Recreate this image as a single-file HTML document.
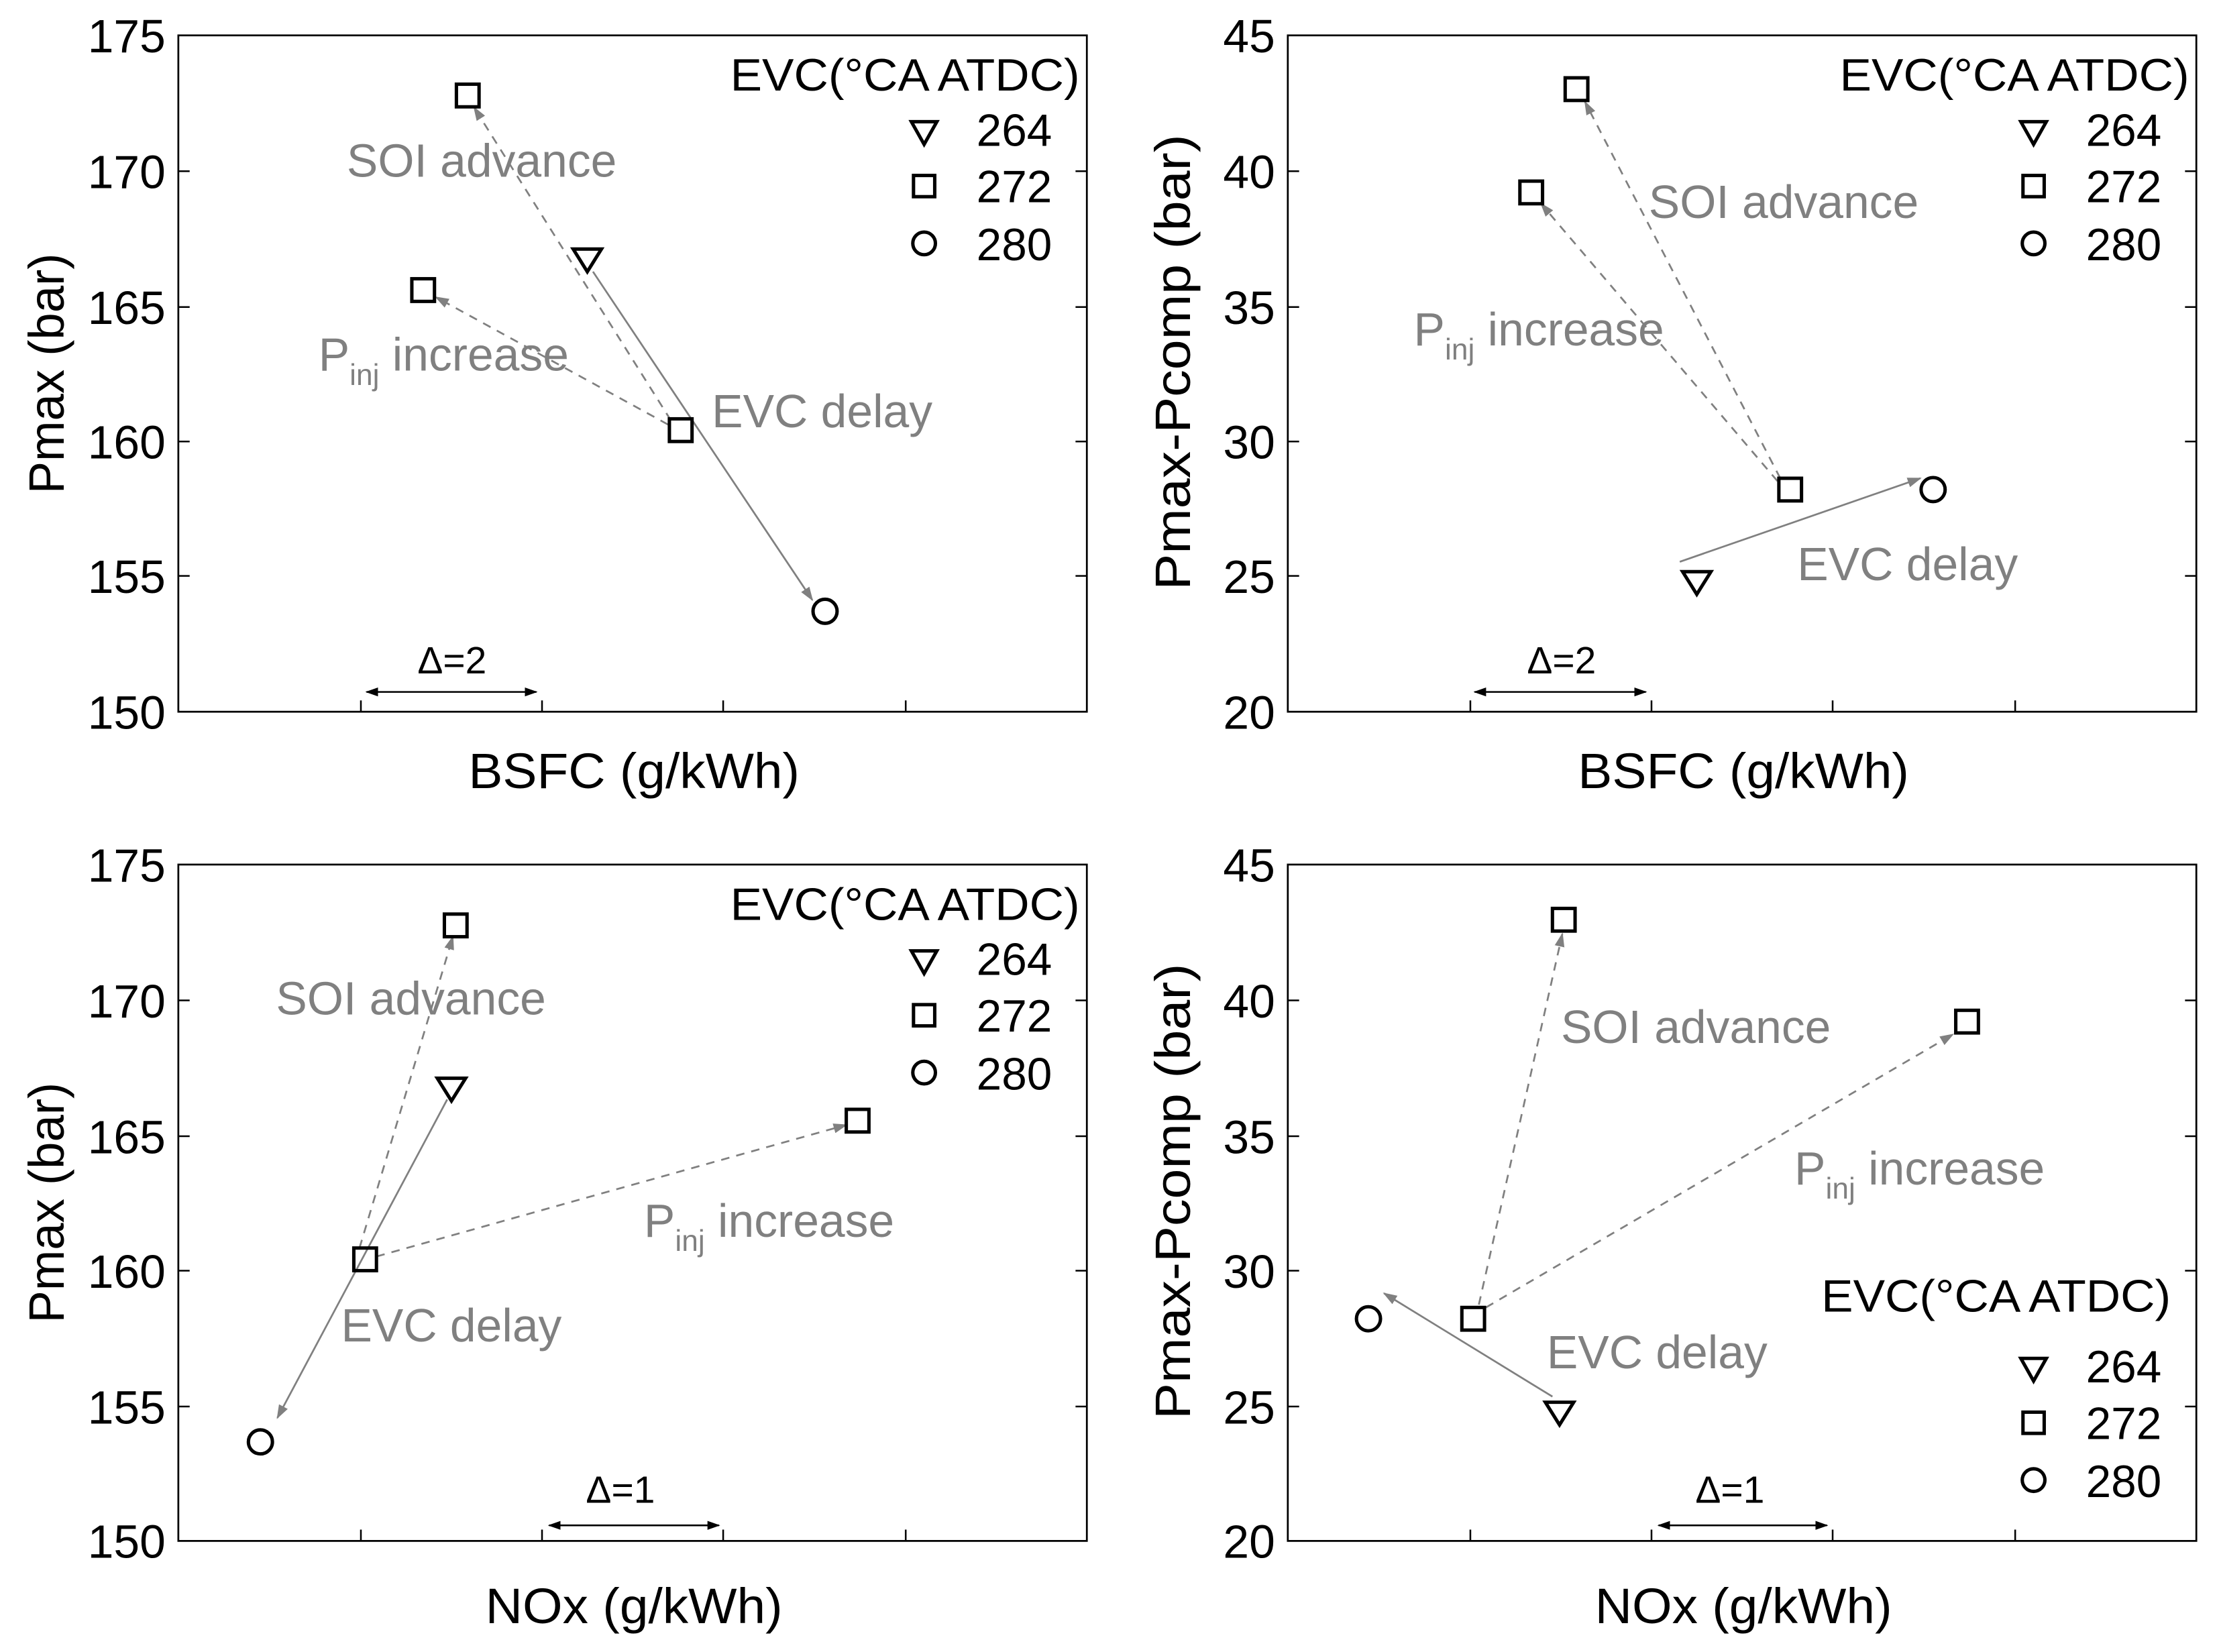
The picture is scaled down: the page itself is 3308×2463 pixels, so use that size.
<!DOCTYPE html>
<html><head><meta charset="utf-8"><style>
html,body{margin:0;padding:0;background:#fff;}
svg{display:block;}
text{font-family:"Liberation Sans",Arial,sans-serif;}
.t{font-size:33px;fill:#000;}
.ax{font-size:35px;fill:#000;}
.lg{font-size:32px;fill:#000;}
.gl{font-size:33px;fill:#808080;}
.gs{font-size:21px;fill:#808080;}
.d{font-size:27px;fill:#000;}
.fr{fill:none;stroke:#000;stroke-width:1.3;}
.tk{stroke:#000;stroke-width:1.2;}
.m{fill:none;stroke:#000;stroke-width:2.4;}
.da{stroke:#808080;stroke-width:1.3;stroke-dasharray:6,5;fill:none;}
.so{stroke:#808080;stroke-width:1.3;fill:none;}
</style></head><body>
<svg width="3308" height="2463" viewBox="0 0 1568 1167.5" xmlns="http://www.w3.org/2000/svg">
<defs>
<marker id="ar" viewBox="0 0 10 10" refX="9" refY="5" markerWidth="10" markerHeight="10" markerUnits="userSpaceOnUse" orient="auto">
<path d="M0,1.5 L10,5 L0,8.5 Z" fill="#808080"/></marker>
<marker id="ak" viewBox="0 0 10 10" refX="9" refY="5" markerWidth="9" markerHeight="9" markerUnits="userSpaceOnUse" orient="auto">
<path d="M0,1.5 L10,5 L0,8.5 Z" fill="#000"/></marker>
<marker id="aks" viewBox="0 0 10 10" refX="1" refY="5" markerWidth="9" markerHeight="9" markerUnits="userSpaceOnUse" orient="auto">
<path d="M10,1.5 L0,5 L10,8.5 Z" fill="#000"/></marker>
</defs>

<!-- ============ Panel 1 (top-left) ============ -->
<rect class="fr" x="126" y="25" width="642" height="478"/>
<g class="tk">
<line x1="126" y1="121" x2="134" y2="121"/><line x1="126" y1="217" x2="134" y2="217"/><line x1="126" y1="312" x2="134" y2="312"/><line x1="126" y1="407" x2="134" y2="407"/>
<line x1="768" y1="121" x2="760" y2="121"/><line x1="768" y1="217" x2="760" y2="217"/><line x1="768" y1="312" x2="760" y2="312"/><line x1="768" y1="407" x2="760" y2="407"/>
<line x1="255" y1="503" x2="255" y2="495"/><line x1="383" y1="503" x2="383" y2="495"/><line x1="511" y1="503" x2="511" y2="495"/><line x1="640" y1="503" x2="640" y2="495"/>
</g>
<g class="t" text-anchor="end">
<text x="117" y="37">175</text><text x="117" y="133">170</text><text x="117" y="229">165</text><text x="117" y="324">160</text><text x="117" y="419">155</text><text x="117" y="515">150</text>
</g>
<text class="ax" text-anchor="middle" textLength="170" lengthAdjust="spacingAndGlyphs" transform="translate(45,264) rotate(-90)">Pmax (bar)</text>
<text class="ax" x="448" y="557" text-anchor="middle" textLength="234" lengthAdjust="spacingAndGlyphs">BSFC (g/kWh)</text>
<text class="lg" x="516" y="64" textLength="247" lengthAdjust="spacingAndGlyphs">EVC(°CA ATDC)</text>
<path class="m" d="M644,86 L662,86 L653,102 Z"/><rect class="m" x="645.5" y="124" width="15" height="15"/><circle class="m" cx="653" cy="172" r="8"/>
<text class="lg" x="690" y="103">264</text><text class="lg" x="690" y="143">272</text><text class="lg" x="690" y="184">280</text>
<line class="da" x1="474" y1="297" x2="335" y2="76" marker-end="url(#ar)"/>
<line class="da" x1="472" y1="300" x2="308" y2="210" marker-end="url(#ar)"/>
<line class="so" x1="419" y1="192" x2="574" y2="424" marker-end="url(#ar)"/>
<rect class="m" x="322.5" y="59.5" width="16" height="16"/>
<path class="m" d="M405,176 L425,176 L415,192 Z"/>
<rect class="m" x="291" y="197" width="16" height="16"/>
<rect class="m" x="473" y="296" width="16" height="16"/>
<circle class="m" cx="583" cy="432" r="8.5"/>
<text class="gl" x="245" y="125">SOI advance</text>
<text class="gl" x="225" y="262">P<tspan class="gs" dy="10">inj</tspan><tspan dy="-10"> increase</tspan></text>
<text class="gl" x="503" y="302">EVC delay</text>
<text class="d" x="295" y="476">Δ=2</text>
<line class="tk" x1="259" y1="489" x2="379" y2="489" marker-start="url(#aks)" marker-end="url(#ak)"/>

<!-- ============ Panel 2 (top-right) ============ -->
<rect class="fr" x="910" y="25" width="642" height="478"/>
<g class="tk">
<line x1="910" y1="121" x2="918" y2="121"/><line x1="910" y1="217" x2="918" y2="217"/><line x1="910" y1="312" x2="918" y2="312"/><line x1="910" y1="407" x2="918" y2="407"/>
<line x1="1552" y1="121" x2="1544" y2="121"/><line x1="1552" y1="217" x2="1544" y2="217"/><line x1="1552" y1="312" x2="1544" y2="312"/><line x1="1552" y1="407" x2="1544" y2="407"/>
<line x1="1039" y1="503" x2="1039" y2="495"/><line x1="1167" y1="503" x2="1167" y2="495"/><line x1="1295" y1="503" x2="1295" y2="495"/><line x1="1424" y1="503" x2="1424" y2="495"/>
</g>
<g class="t" text-anchor="end">
<text x="901" y="37">45</text><text x="901" y="133">40</text><text x="901" y="229">35</text><text x="901" y="324">30</text><text x="901" y="419">25</text><text x="901" y="515">20</text>
</g>
<text class="ax" text-anchor="middle" textLength="322" lengthAdjust="spacingAndGlyphs" transform="translate(841,256) rotate(-90)">Pmax-Pcomp (bar)</text>
<text class="ax" x="1232" y="557" text-anchor="middle" textLength="234" lengthAdjust="spacingAndGlyphs">BSFC (g/kWh)</text>
<text class="lg" x="1300" y="64" textLength="247" lengthAdjust="spacingAndGlyphs">EVC(°CA ATDC)</text>
<path class="m" d="M1428,86 L1446,86 L1437,102 Z"/><rect class="m" x="1429.5" y="124" width="15" height="15"/><circle class="m" cx="1437" cy="172" r="8"/>
<text class="lg" x="1474" y="103">264</text><text class="lg" x="1474" y="143">272</text><text class="lg" x="1474" y="184">280</text>
<line class="da" x1="1258" y1="338" x2="1120" y2="72" marker-end="url(#ar)"/>
<line class="da" x1="1256" y1="340" x2="1089" y2="144" marker-end="url(#ar)"/>
<line class="so" x1="1187" y1="397" x2="1357" y2="338" marker-end="url(#ar)"/>
<rect class="m" x="1106" y="55" width="16" height="16"/>
<rect class="m" x="1074" y="128" width="16" height="16"/>
<rect class="m" x="1257" y="338" width="16" height="16"/>
<circle class="m" cx="1366" cy="346" r="8.5"/>
<path class="m" d="M1189,404 L1209,404 L1199,420 Z"/>
<text class="gl" x="1165" y="154">SOI advance</text>
<text class="gl" x="999" y="244">P<tspan class="gs" dy="10">inj</tspan><tspan dy="-10"> increase</tspan></text>
<text class="gl" x="1270" y="410">EVC delay</text>
<text class="d" x="1079" y="476">Δ=2</text>
<line class="tk" x1="1042" y1="489" x2="1163" y2="489" marker-start="url(#aks)" marker-end="url(#ak)"/>

<!-- ============ Panel 3 (bottom-left) ============ -->
<rect class="fr" x="126" y="611" width="642" height="478"/>
<g class="tk">
<line x1="126" y1="707" x2="134" y2="707"/><line x1="126" y1="803" x2="134" y2="803"/><line x1="126" y1="898" x2="134" y2="898"/><line x1="126" y1="994" x2="134" y2="994"/>
<line x1="768" y1="707" x2="760" y2="707"/><line x1="768" y1="803" x2="760" y2="803"/><line x1="768" y1="898" x2="760" y2="898"/><line x1="768" y1="994" x2="760" y2="994"/>
<line x1="255" y1="1089" x2="255" y2="1081"/><line x1="383" y1="1089" x2="383" y2="1081"/><line x1="511" y1="1089" x2="511" y2="1081"/><line x1="640" y1="1089" x2="640" y2="1081"/>
</g>
<g class="t" text-anchor="end">
<text x="117" y="623">175</text><text x="117" y="719">170</text><text x="117" y="815">165</text><text x="117" y="910">160</text><text x="117" y="1006">155</text><text x="117" y="1101">150</text>
</g>
<text class="ax" text-anchor="middle" textLength="170" lengthAdjust="spacingAndGlyphs" transform="translate(45,850) rotate(-90)">Pmax (bar)</text>
<text class="ax" x="448" y="1147" text-anchor="middle" textLength="210" lengthAdjust="spacingAndGlyphs">NOx (g/kWh)</text>
<text class="lg" x="516" y="650" textLength="247" lengthAdjust="spacingAndGlyphs">EVC(°CA ATDC)</text>
<path class="m" d="M644,672 L662,672 L653,688 Z"/><rect class="m" x="645.5" y="710" width="15" height="15"/><circle class="m" cx="653" cy="758" r="8"/>
<text class="lg" x="690" y="689">264</text><text class="lg" x="690" y="729">272</text><text class="lg" x="690" y="770">280</text>
<line class="da" x1="254" y1="882" x2="320" y2="662" marker-end="url(#ar)"/>
<line class="da" x1="266" y1="888" x2="598" y2="795" marker-end="url(#ar)"/>
<line class="so" x1="316" y1="777" x2="196" y2="1002" marker-end="url(#ar)"/>
<rect class="m" x="314" y="646" width="16" height="16"/>
<path class="m" d="M309,762 L329,762 L319,778 Z"/>
<rect class="m" x="598" y="784" width="16" height="16"/>
<rect class="m" x="250" y="882" width="16" height="16"/>
<circle class="m" cx="184" cy="1019" r="8.5"/>
<text class="gl" x="195" y="717">SOI advance</text>
<text class="gl" x="455" y="874">P<tspan class="gs" dy="10">inj</tspan><tspan dy="-10"> increase</tspan></text>
<text class="gl" x="241" y="948">EVC delay</text>
<text class="d" x="414" y="1062">Δ=1</text>
<line class="tk" x1="388" y1="1078" x2="508" y2="1078" marker-start="url(#aks)" marker-end="url(#ak)"/>

<!-- ============ Panel 4 (bottom-right) ============ -->
<rect class="fr" x="910" y="611" width="642" height="478"/>
<g class="tk">
<line x1="910" y1="707" x2="918" y2="707"/><line x1="910" y1="803" x2="918" y2="803"/><line x1="910" y1="898" x2="918" y2="898"/><line x1="910" y1="994" x2="918" y2="994"/>
<line x1="1552" y1="707" x2="1544" y2="707"/><line x1="1552" y1="803" x2="1544" y2="803"/><line x1="1552" y1="898" x2="1544" y2="898"/><line x1="1552" y1="994" x2="1544" y2="994"/>
<line x1="1039" y1="1089" x2="1039" y2="1081"/><line x1="1167" y1="1089" x2="1167" y2="1081"/><line x1="1295" y1="1089" x2="1295" y2="1081"/><line x1="1424" y1="1089" x2="1424" y2="1081"/>
</g>
<g class="t" text-anchor="end">
<text x="901" y="623">45</text><text x="901" y="719">40</text><text x="901" y="815">35</text><text x="901" y="910">30</text><text x="901" y="1006">25</text><text x="901" y="1101">20</text>
</g>
<text class="ax" text-anchor="middle" textLength="322" lengthAdjust="spacingAndGlyphs" transform="translate(841,842) rotate(-90)">Pmax-Pcomp (bar)</text>
<text class="ax" x="1232" y="1147" text-anchor="middle" textLength="210" lengthAdjust="spacingAndGlyphs">NOx (g/kWh)</text>
<text class="lg" x="1287" y="927" textLength="247" lengthAdjust="spacingAndGlyphs">EVC(°CA ATDC)</text>
<path class="m" d="M1428,960 L1446,960 L1437,976 Z"/><rect class="m" x="1429.5" y="998" width="15" height="15"/><circle class="m" cx="1437" cy="1046" r="8"/>
<text class="lg" x="1474" y="977">264</text><text class="lg" x="1474" y="1017">272</text><text class="lg" x="1474" y="1058">280</text>
<line class="da" x1="1045" y1="922" x2="1104" y2="660" marker-end="url(#ar)"/>
<line class="da" x1="1050" y1="924" x2="1380" y2="731" marker-end="url(#ar)"/>
<line class="so" x1="1097" y1="987" x2="978" y2="914" marker-end="url(#ar)"/>
<rect class="m" x="1097" y="642" width="16" height="16"/>
<rect class="m" x="1382" y="714" width="16" height="16"/>
<rect class="m" x="1033" y="924" width="16" height="16"/>
<circle class="m" cx="967" cy="932" r="8.5"/>
<path class="m" d="M1092,991 L1112,991 L1102,1007 Z"/>
<text class="gl" x="1103" y="737">SOI advance</text>
<text class="gl" x="1268" y="837">P<tspan class="gs" dy="10">inj</tspan><tspan dy="-10"> increase</tspan></text>
<text class="gl" x="1093" y="967">EVC delay</text>
<text class="d" x="1198" y="1062">Δ=1</text>
<line class="tk" x1="1172" y1="1078" x2="1291" y2="1078" marker-start="url(#aks)" marker-end="url(#ak)"/>
</svg>
</body></html>
